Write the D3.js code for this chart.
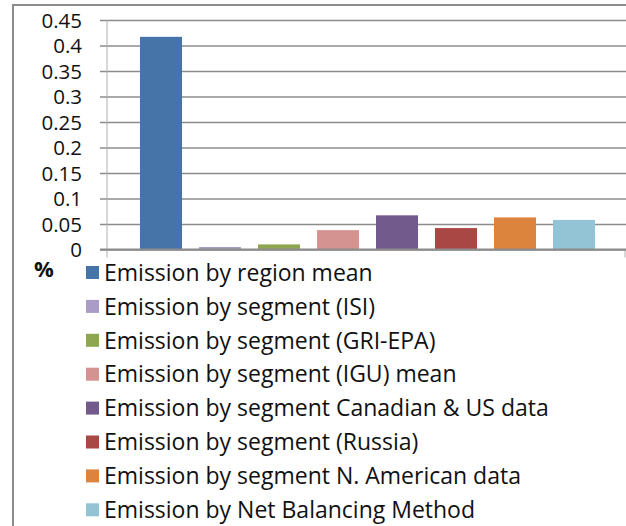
<!DOCTYPE html>
<html>
<head>
<meta charset="utf-8">
<script src="https://cdn.jsdelivr.net/npm/d3@7"></script>
<style>
  body { margin: 0; background: #fff; }
  text { font-family: "Open Sans", sans-serif; fill: #111; }
</style>
</head>
<body>
<svg id="chart" width="626" height="526"></svg>
<script>
// one category, eight series (clustered bar)
var seriesNames = [
    "Emission by region mean",
    "Emission by segment (ISI)",
    "Emission by segment (GRI-EPA)",
    "Emission by segment (IGU) mean",
    "Emission by segment Canadian & US data",
    "Emission by segment (Russia)",
    "Emission by segment N. American data",
    "Emission by Net Balancing Method"
];
var seriesValues = [0.417, 0.005, 0.01, 0.038, 0.067, 0.042, 0.063, 0.058];
var seriesColors = ["#4673a8", "#a99cc6", "#8ea650", "#d49390",
                    "#735a8d", "#a84744", "#dc843e", "#93c4d5"];
var yTicks = [0, 0.05, 0.1, 0.15, 0.2, 0.25, 0.3, 0.35, 0.4, 0.45];
var unitLabel = "%";

var svg = d3.select("#chart");
var gridColor = "#8c8c8c";

// frame (only left and top edges show)
svg.append("line")
    .attr("x1", 13).attr("y1", 4).attr("x2", 13).attr("y2", 526)
    .attr("stroke", gridColor).attr("stroke-width", 2);
svg.append("line")
    .attr("x1", 12).attr("y1", 5).attr("x2", 626).attr("y2", 5)
    .attr("stroke", gridColor).attr("stroke-width", 2);

var plotLeft = 107, plotRight = 628;

var y = d3.scaleLinear()
    .domain([0, 0.45])
    .range([249.5, 20]);

var x = d3.scaleBand()
    .domain(seriesNames)
    .range([131.5, 603.5])
    .paddingInner(0.288)
    .paddingOuter(0.144);

// gridlines + labels via axis
var yAxis = d3.axisLeft(y)
    .tickValues(yTicks)
    .tickSize(0)
    .tickFormat(function(d) { return d3.format("")(+d.toFixed(2)); });

var gAxis = svg.append("g")
    .attr("transform", "translate(" + (plotLeft - 7) + ",0)")
    .call(yAxis);

gAxis.select(".domain").remove();
gAxis.selectAll(".tick line")
    .attr("x1", 0).attr("x2", plotRight - plotLeft + 7)
    .attr("stroke", gridColor)
    .attr("stroke-width", 1.6);
gAxis.selectAll(".tick text")
    .attr("x", -18)
    .attr("dy", "0.36em")
    .style("font-family", "\"Open Sans\", sans-serif")
    .style("font-size", "20.5px")
    .attr("fill", "#111");

// vertical axis line and end ticks
svg.append("line")
    .attr("x1", plotLeft).attr("y1", y(0.45)).attr("x2", plotLeft).attr("y2", y(0) + 8)
    .attr("stroke", "#b0b0b0").attr("stroke-width", 1);
svg.append("line")
    .attr("x1", 625).attr("y1", y(0)).attr("x2", 625).attr("y2", y(0) + 8)
    .attr("stroke", "#b0b0b0").attr("stroke-width", 1);

// bars
svg.append("g")
    .selectAll("rect")
    .data(seriesValues)
    .enter()
    .append("rect")
    .attr("x", function(d, i) { return x(seriesNames[i]); })
    .attr("y", function(d) { return y(d); })
    .attr("width", x.bandwidth())
    .attr("height", function(d) { return y(0) - y(d); })
    .attr("fill", function(d, i) { return seriesColors[i]; });

// zero line on top of bars
svg.append("line")
    .attr("x1", plotLeft - 7).attr("y1", y(0)).attr("x2", 626).attr("y2", y(0))
    .attr("stroke", gridColor).attr("stroke-width", 2);

// unit label
svg.append("text")
    .attr("x", 34).attr("y", 277)
    .style("font-size", "22px")
    .style("font-weight", "bold")
    .text(unitLabel);

// legend
var legend = svg.append("g")
    .selectAll("g")
    .data(seriesNames)
    .enter()
    .append("g")
    .attr("transform", function(d, i) { return "translate(86," + (272.5 + i * 33.9) + ")"; });

legend.append("rect")
    .attr("x", 0).attr("y", -6.5)
    .attr("width", 13).attr("height", 13)
    .attr("fill", function(d, i) { return seriesColors[i]; });

legend.append("text")
    .attr("x", 18)
    .attr("dy", "0.36em")
    .style("font-size", "23px")
    .text(function(d) { return d; });
</script>
</body>
</html>
